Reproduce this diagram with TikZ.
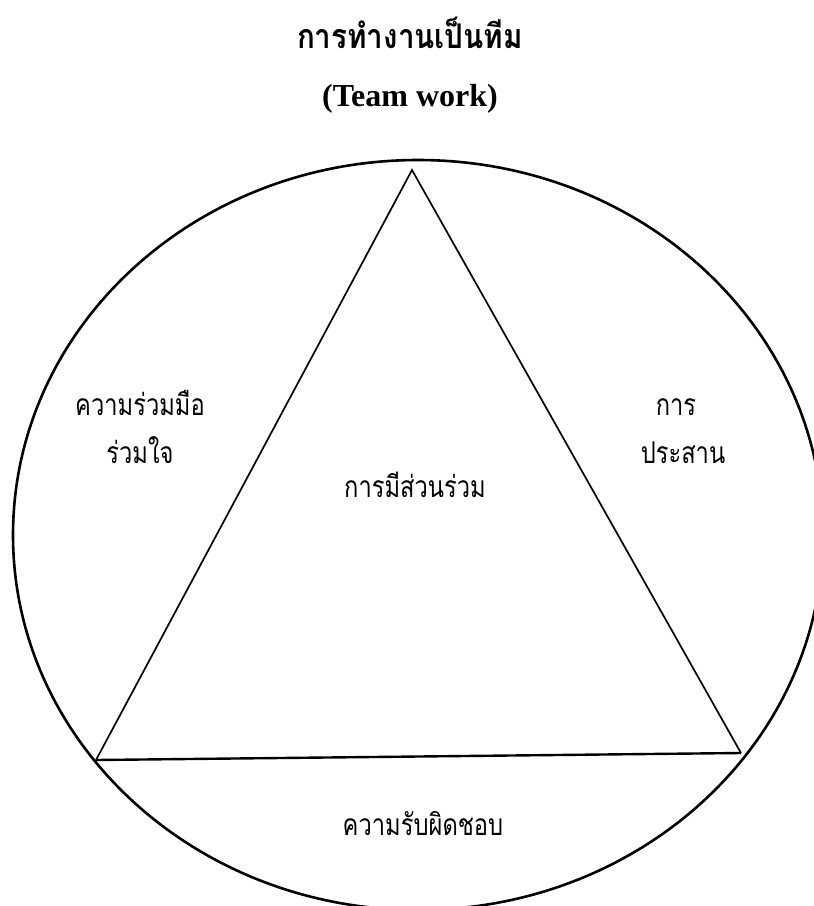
\documentclass[tikz,border=0pt]{standalone}
\usepackage{fontspec}
\setmainfont{Liberation Serif}
\newfontfamily\thaifont[Script=Thai,FakeStretch=0.79]{Loma}
\newfontfamily\thaiheadfont[Script=Thai,FakeStretch=0.87]{Loma}
\tikzset{
  thaitxt/.style={font=\thaifont\fontsize{30}{36}\selectfont, inner sep=0pt, anchor=base},
  heading/.style={font=\thaiheadfont\bfseries\fontsize{34}{40}\selectfont, inner sep=0pt, anchor=base},
  subheading/.style={font=\bfseries\fontsize{32}{38}\selectfont, inner sep=0pt, anchor=base},
}
\begin{document}
\begin{tikzpicture}[x=1pt,y=-1pt]
  \useasboundingbox (0,0) rectangle (814,906);
  \clip (0,0) rectangle (814,906);

  % หัวเรื่อง
  \node[heading] (title) at (410,48) {การทำงานเป็นทีม};
  \node[subheading] (eng) at (410,106) {(Team work)};

  % วงกลม
  \draw[line width=2.6pt] (418,535) ellipse [x radius=405, y radius=375];

  % สามเหลี่ยม
  \coordinate (apex) at (412,170);
  \coordinate (baseL) at (96,760);
  \coordinate (baseR) at (741,753);
  \draw[line width=1.7pt] (baseR) -- (apex) -- (baseL);
  \draw[line width=2.4pt] (baseL) -- (baseR);

  % ข้อความ
  \node[thaitxt] (coop) at (140,415) {ความร่วมมือ};
  \node[thaitxt] (heart) at (140,463) {ร่วมใจ};
  \node[thaitxt] (coordA) at (676,415) {การ};
  \node[thaitxt] (coordB) at (683,463) {ประสาน};
  \node[thaitxt] (partic) at (415,497) {การมีส่วนร่วม};
  \node[thaitxt] (resp) at (423,835) {ความรับผิดชอบ};
\end{tikzpicture}
\end{document}
